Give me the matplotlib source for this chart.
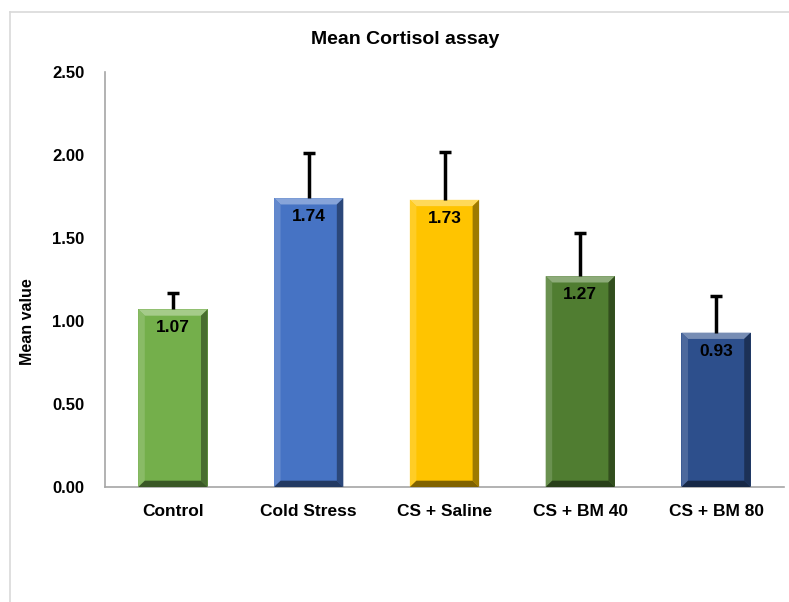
import matplotlib
matplotlib.use("Agg")
import matplotlib.pyplot as plt
import matplotlib.colors as mcolors
from matplotlib.patches import Polygon
from matplotlib.lines import Line2D
import numpy as np

groups = ["Control", "Cold Stress", "CS + Saline", "CS + BM 40", "CS + BM 80"]
means = [1.07, 1.74, 1.73, 1.27, 0.93]
errs = [0.10, 0.27, 0.29, 0.26, 0.22]
colors = ["#74AF4B", "#4673C4", "#FFC400", "#507D31", "#2D4F8C"]
yticks = [0.0, 0.5, 1.0, 1.5, 2.0, 2.5]

plt.rcParams['font.family'] = ['Liberation Sans', 'DejaVu Sans']

fig = plt.figure(figsize=(7.89, 6.02), dpi=100)
ax = fig.add_axes([105/789, 1-487/602, 679/789, 415/602])

x = np.arange(len(groups))
w = 0.51
bars = ax.bar(x, means, width=w, color=colors, zorder=2)


def shade(c, f):
    r, g, b = mcolors.to_rgb(c)
    if f > 0:
        return (r + (1-r)*f, g + (1-g)*f, b + (1-b)*f)
    return (r*(1+f), g*(1+f), b*(1+f))


# bevel edges on every bar
dx, dy = 0.048, 0.038
for b, c in zip(bars, colors):
    x0, y0 = b.get_x(), b.get_y()
    x1, y1 = x0 + b.get_width(), y0 + b.get_height()
    top = [(x0, y1), (x1, y1), (x1-dx, y1-dy), (x0+dx, y1-dy)]
    bot = [(x0, y0), (x1, y0), (x1-dx, y0+dy), (x0+dx, y0+dy)]
    lft = [(x0, y0), (x0, y1), (x0+dx, y1-dy), (x0+dx, y0+dy)]
    rgt = [(x1, y0), (x1, y1), (x1-dx, y1-dy), (x1-dx, y0+dy)]
    for pts, f in [(top, 0.35), (lft, 0.15), (rgt, -0.38), (bot, -0.50)]:
        ax.add_patch(Polygon(pts, closed=True, facecolor=shade(c, f),
                             edgecolor='none', zorder=3))

eb = ax.errorbar(x, means, yerr=[[0]*len(errs), errs], fmt='none', ecolor='black',
                 elinewidth=2.5, capsize=4, capthick=2.5, zorder=4)
eb[1][0].set_visible(False)  # hide lower caps

for xi, m in zip(x, means):
    ax.annotate(f"{m:.2f}", (xi, m), xytext=(0, -8), textcoords='offset points',
                ha='center', va='top', fontsize=12.5, fontweight='bold', zorder=5)

ax.set_ylim(0, 2.5)
ax.set_xlim(-0.5, 4.5)
ax.set_yticks(yticks)
ax.set_yticklabels([f"{t:.2f}" for t in yticks], fontsize=12, fontweight='bold')
ax.set_xticks(x)
ax.set_xticklabels(groups, fontsize=12.5, fontweight='bold')
ax.tick_params(axis='y', length=0, pad=15)
ax.tick_params(axis='x', length=0, pad=12)
for s in ['top', 'right']:
    ax.spines[s].set_visible(False)
for s in ['left', 'bottom']:
    ax.spines[s].set_color('#A6A6A6')
    ax.spines[s].set_linewidth(1.2)

fig.text(405/789, 1-40/602, "Mean Cortisol assay", ha='center', va='center',
         fontsize=14, fontweight='bold')
fig.text(28/789, 1-322/602, "Mean value", ha='center', va='center',
         rotation=90, fontsize=11.5, fontweight='bold')

# outer chart frame
fig.add_artist(Line2D([10/789, 10/789], [0, 1-12/602], transform=fig.transFigure,
                      color='#D9D9D9', linewidth=1.2))
fig.add_artist(Line2D([10/789, 1], [1-12/602, 1-12/602], transform=fig.transFigure,
                      color='#D9D9D9', linewidth=1.2))

fig.savefig("out.png", dpi=100)
